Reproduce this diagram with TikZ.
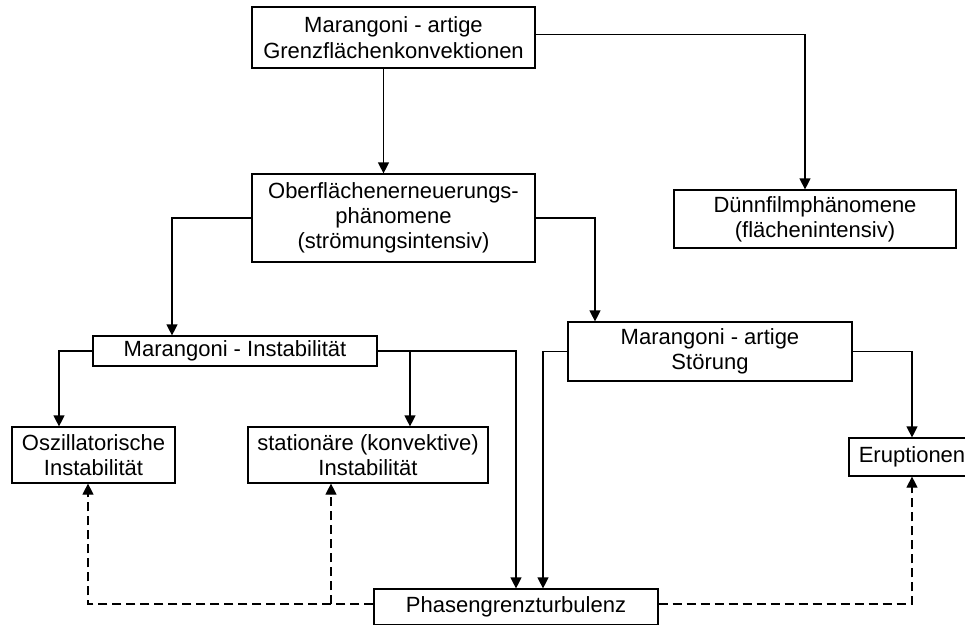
\documentclass[tikz,border=0pt]{standalone}
\usepackage{fontspec}
\setmainfont{Liberation Sans}
\usetikzlibrary{arrows.meta,positioning}

\tikzset{
  box/.style={draw, line width=1.2pt, align=center, inner sep=0pt,
    font=\fontsize{22}{25.3}\selectfont},
  arr/.style={line width=1.2pt, -{Triangle[length=11pt,width=11pt]}},
  dashline/.style={arr, dash pattern=on 9pt off 5pt}
}

\begin{document}
\begin{tikzpicture}[x=1pt, y=-1pt]
  \clip (0,0) rectangle (965,624);
  \fill[white] (0,0) rectangle (965,624);

  \node[box, minimum width=283pt, minimum height=61pt] (top) at (393.5,37.5)
    {Marangoni - artige\\Grenzflächenkonvektionen};
  \node[box, minimum width=283pt, minimum height=88pt] (ober) at (393.5,218)
    {Oberflächenerneuerungs-\\phänomene\\(strömungsintensiv)};
  \node[box, minimum width=282pt, minimum height=58pt] (duenn) at (815,219)
    {Dünnfilmphänomene\\(flächenintensiv)};
  \node[box, minimum width=284pt, minimum height=30pt] (mi) at (235,351)
    {Marangoni - Instabilität};
  \node[box, minimum width=284pt, minimum height=59pt] (stoer) at (710,351.5)
    {Marangoni - artige\\Störung};
  \node[box, minimum width=163pt, minimum height=56pt] (osz) at (93.5,455)
    {Oszillatorische\\Instabilität};
  \node[box, minimum width=240pt, minimum height=56pt] (stat) at (368,455)
    {stationäre (konvektive)\\Instabilität};
  \node[box, minimum width=126pt, minimum height=38pt] (erup) at (912,457)
    {Eruptionen};
  \node[box, minimum width=284pt, minimum height=36pt] (phase) at (516,607)
    {Phasengrenzturbulenz};
  \coordinate (pw) at ([yshift=3pt]phase.west);
  \coordinate (pe) at ([yshift=3pt]phase.east);

  % solid connectors
  \draw[arr] ([xshift=-10pt]top.south) -- ([xshift=-10pt]ober.north);
  \draw[arr] ([yshift=3pt]top.east) -| ([xshift=-10pt]duenn.north);
  \draw[arr] (ober.west) -| ([xshift=-63pt]mi.north);
  \draw[arr] (ober.east) -| ([xshift=-115pt]stoer.north);
  \draw[arr] (mi.west) -| ([xshift=-34.5pt]osz.north);
  \draw[arr] (mi.east) -| (phase.north);
  \draw[arr] ([xshift=42pt]stat.north |- mi.east) -- ([xshift=42pt]stat.north);
  \draw[arr] (stoer.west) -| ([xshift=27pt]phase.north);
  \draw[arr] (stoer.east) -| (erup.north);

  % dashed feedback
  \draw[dashline] (pw) -| ([xshift=-5.5pt]osz.south);
  \draw[dashline] ([xshift=-37pt]stat.south |- pw) -- ([xshift=-37pt]stat.south);
  \draw[dashline] (pe) -| (erup.south);
\end{tikzpicture}
\end{document}
